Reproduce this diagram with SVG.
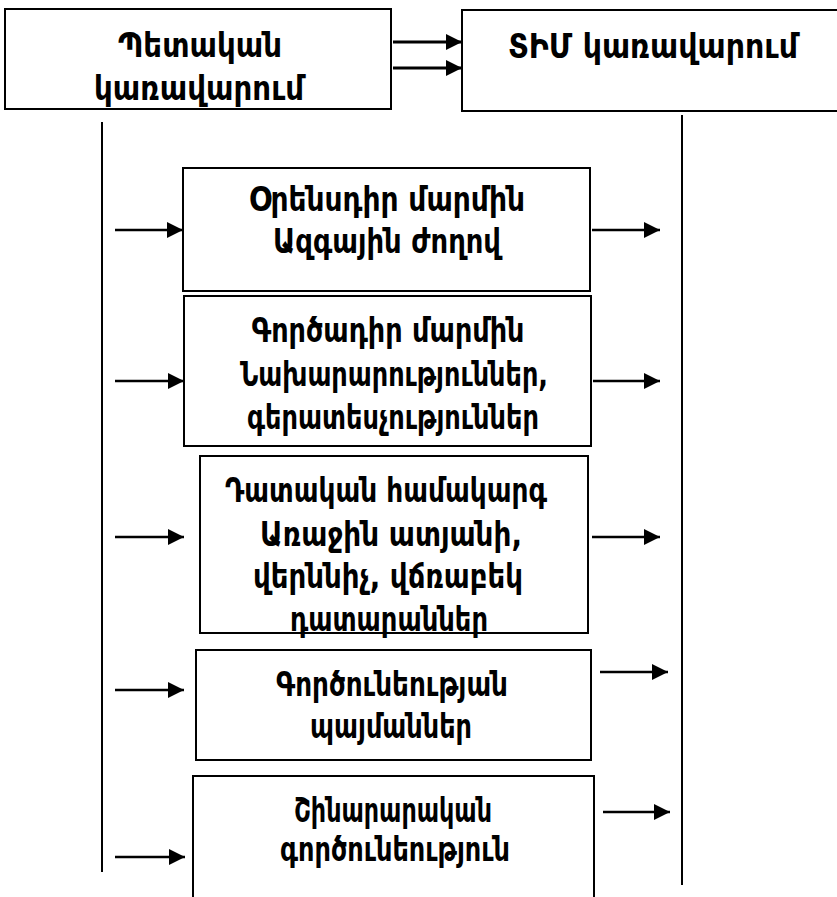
<svg xmlns="http://www.w3.org/2000/svg" width="837" height="897" viewBox="0 0 837 897">
<defs>
<marker id="ah" markerUnits="userSpaceOnUse" markerWidth="18" markerHeight="16" refX="16" refY="8" orient="auto">
<path d="M0,0 L16,8 L0,16 Z" fill="#000"/>
</marker>
<style>
.box{fill:#fff;stroke:#000;stroke-width:2}
.t{font-family:"DejaVu Sans",sans-serif;font-weight:bold;font-size:33px;fill:#000;text-anchor:middle}
.c{stroke:#000;stroke-width:2;fill:none}
.a{stroke:#000;stroke-width:2.5;fill:none;marker-end:url(#ah)}
</style>
</defs>
<rect width="837" height="897" fill="#fff"/>
<g id="connectors">
<line class="c" x1="102" y1="122" x2="102" y2="872"/>
<line class="c" x1="682" y1="115" x2="682" y2="885"/>
<line class="a" x1="393" y1="42" x2="462" y2="42" style="stroke-width:3"/>
<line class="a" x1="393" y1="68" x2="462" y2="68" style="stroke-width:3"/>
<line class="a" x1="115" y1="230" x2="183" y2="230"/>
<line class="a" x1="592" y1="230" x2="660" y2="230"/>
<line class="a" x1="115" y1="381" x2="184" y2="381"/>
<line class="a" x1="593" y1="381" x2="660" y2="381"/>
<line class="a" x1="115" y1="537" x2="184" y2="537"/>
<line class="a" x1="592" y1="537" x2="660" y2="537"/>
<line class="a" x1="115" y1="690" x2="184" y2="690"/>
<line class="a" x1="600" y1="672" x2="668" y2="672"/>
<line class="a" x1="115" y1="857" x2="185" y2="857"/>
<line class="a" x1="603" y1="812" x2="670" y2="812"/>
</g>
<g id="n1">
<rect class="box" x="5" y="9" width="386" height="100"/>
<text class="t" x="200" y="57" textLength="164" lengthAdjust="spacingAndGlyphs">Պետական</text>
<text class="t" x="199" y="100" textLength="210" lengthAdjust="spacingAndGlyphs">կառավարում</text>
</g>
<g id="n2">
<rect class="box" x="462" y="10" width="380" height="101"/>
<text class="t" x="653" y="58" textLength="290" lengthAdjust="spacingAndGlyphs">ՏԻՄ կառավարում</text>
</g>
<g id="n3">
<rect class="box" x="183" y="168" width="407" height="123"/>
<text class="t" x="387" y="211" textLength="276" lengthAdjust="spacingAndGlyphs">Օրենսդիր մարմին</text>
<text class="t" x="387" y="253" textLength="228" lengthAdjust="spacingAndGlyphs">Ազգային ժողով</text>
</g>
<g id="n4">
<rect class="box" x="184" y="296" width="407" height="150"/>
<text class="t" x="388" y="342" textLength="273" lengthAdjust="spacingAndGlyphs">Գործադիր մարմին</text>
<text class="t" x="394" y="386" textLength="308" lengthAdjust="spacingAndGlyphs">Նախարարություններ,</text>
<text class="t" x="393" y="429" textLength="292" lengthAdjust="spacingAndGlyphs">գերատեսչություններ</text>
</g>
<g id="n5">
<rect class="box" x="200" y="456" width="388" height="177"/>
<text class="t" x="386" y="502" textLength="322" lengthAdjust="spacingAndGlyphs">Դատական համակարգ</text>
<text class="t" x="391" y="546" textLength="262" lengthAdjust="spacingAndGlyphs">Առաջին ատյանի,</text>
<text class="t" x="388" y="588" textLength="270" lengthAdjust="spacingAndGlyphs">վերննիչ, վճռաբեկ</text>
<text class="t" x="389" y="631" textLength="198" lengthAdjust="spacingAndGlyphs">դատարաններ</text>
</g>
<g id="n6">
<rect class="box" x="196" y="650" width="395" height="110"/>
<text class="t" x="392" y="696" textLength="232" lengthAdjust="spacingAndGlyphs">Գործունեության</text>
<text class="t" x="391" y="738" textLength="162" lengthAdjust="spacingAndGlyphs">պայմաններ</text>
</g>
<g id="n7">
<rect class="box" x="193" y="776" width="401" height="130"/>
<text class="t" x="393" y="822" textLength="198" lengthAdjust="spacingAndGlyphs">Շինարարական</text>
<text class="t" x="395" y="861" textLength="230" lengthAdjust="spacingAndGlyphs">գործունեություն</text>
</g>
</svg>
